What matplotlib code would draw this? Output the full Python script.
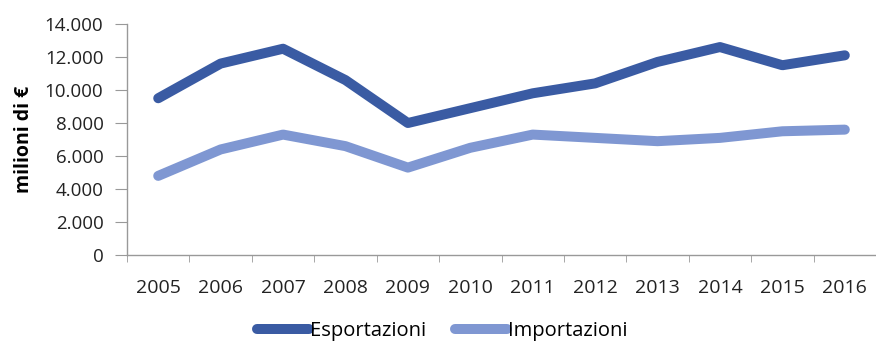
import matplotlib
matplotlib.use("Agg")
import matplotlib.pyplot as plt
from matplotlib.ticker import FuncFormatter, FixedLocator

anni = ["2005", "2006", "2007", "2008", "2009", "2010",
        "2011", "2012", "2013", "2014", "2015", "2016"]
esportazioni = [9500, 11600, 12500, 10600, 8000, 8900,
                9800, 10400, 11700, 12600, 11500, 12100]
importazioni = [4800, 6400, 7300, 6600, 5300, 6500,
                7300, 7100, 6900, 7100, 7500, 7600]

plt.rcParams['font.family'] = ['Open Sans', 'DejaVu Sans']

fig = plt.figure(figsize=(8.76, 3.42), dpi=100)
ax = fig.add_axes([0.145, 0.254, 0.855, 0.676])

x = list(range(len(anni)))
ax.plot(x, esportazioni, color='#3A5BA3', linewidth=7.2, solid_capstyle='round',
        solid_joinstyle='round', label="Esportazioni")
ax.plot(x, importazioni, color='#7F97D2', linewidth=7.2, solid_capstyle='round',
        solid_joinstyle='round', label="Importazioni")

ax.set_xlim(-0.5, len(anni) - 0.5)
ax.set_ylim(0, 14000)
ax.set_yticks(range(0, 14001, 2000))
ax.yaxis.set_major_formatter(FuncFormatter(lambda v, p: f"{int(v):,}".replace(",", ".")))

ax.set_xticks(x)
ax.set_xticklabels(anni)
ax.xaxis.set_minor_locator(FixedLocator([i - 0.5 for i in range(len(anni) + 1)]))
ax.tick_params(axis='x', which='major', length=0, pad=17, labelsize=14, labelcolor='#222222')
ax.tick_params(axis='x', which='minor', length=5, color='#999999')
ax.tick_params(axis='y', length=9, color='#999999', labelsize=13.5, labelcolor='#222222', pad=8)

for s in ['top', 'right']:
    ax.spines[s].set_visible(False)
for s in ['left', 'bottom']:
    ax.spines[s].set_color('#999999')
    ax.spines[s].set_linewidth(1)

ax.set_ylabel("milioni di €", fontsize=14, fontweight='bold', labelpad=8)

fig.legend(loc='lower center', bbox_to_anchor=(0.505, -0.05), ncol=2, frameon=False,
           fontsize=14.5, handlelength=2.6, handletextpad=0.05, columnspacing=1.4)

fig.savefig("out.png", dpi=100)
